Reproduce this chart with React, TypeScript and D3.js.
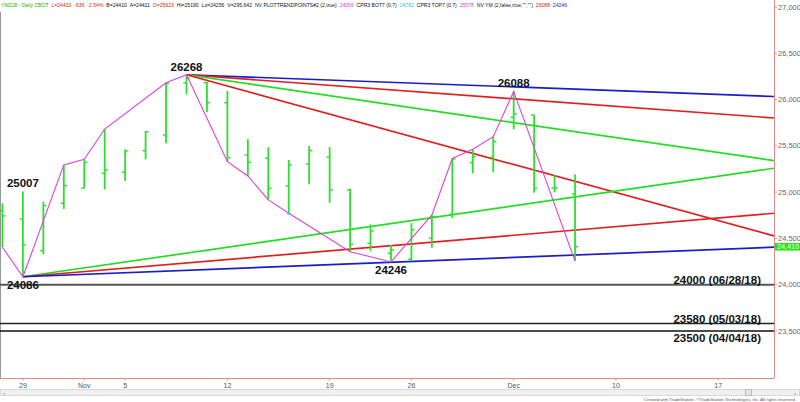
import React, { useMemo } from 'react';
import * as d3 from 'd3';

// ---- Data ----
const sessionDates = [
  '10/26', '10/29', '10/30', '10/31', '11/01', '11/02', '11/05', '11/06', '11/07', '11/08',
  '11/09', '11/12', '11/13', '11/14', '11/15', '11/16', '11/19', '11/20', '11/21', '11/23',
  '11/26', '11/27', '11/28', '11/29', '11/30', '12/03', '12/04', '12/05', '12/06', '12/07',
  '12/10', '12/11', '12/12', '12/13', '12/14', '12/17', '12/18', '12/19',
];
const barOpen = [24800, 24710, 24368, 24880, 25042, 25204, 25215, 25448, 25618, 26180, 26182, 25966, 25402, 25366, 25067, 25304, 25377, 25024, 24448, 24340, 24275, 24502, 24761, 25318, 25377, 25809, 25834, 25042, 24980];
const barHigh = [24880, 25007, 24897, 25294, 25355, 25682, 25463, 25661, 26182, 26268, 26193, 26093, 25571, 25485, 25348, 25499, 25485, 25038, 24653, 24430, 24664, 24754, 25364, 25463, 25599, 26088, 25834, 25186, 25190];
const barLow = [24405, 24086, 24329, 24818, 25042, 25031, 25121, 25355, 25528, 26057, 25863, 25329, 25175, 24916, 24772, 25085, 24886, 24357, 24365, 24246, 24260, 24400, 24721, 25204, 25215, 25679, 24994, 24999, 24256];
const barClose = [24743, 24430, 24854, 25070, 25323, 25240, 25445, 25653, 26176, 26230, 25966, 25372, 25323, 25042, 25294, 25448, 25024, 24437, 24581, 24376, 24592, 24735, 25358, 25383, 25545, 25844, 25042, 25046, 24410];

const tickIdx = [1, 4, 6, 11, 16, 20, 25, 30, 35];
const tickLabels = ['29', 'Nov', '5', '12', '19', '26', 'Dec', '10', '17'];
const priceTicks = [23500, 24000, 24500, 25000, 25500, 26000, 26500, 27000];

const swingIdx = [0, 1, 3, 4, 5, 8, 9, 11, 12, 13, 14, 17, 19, 21, 22, 23, 24, 25, 28];
const swingPrice = [24405, 24086, 25294, 25355, 25682, 26182, 26268, 25329, 25175, 24916, 24772, 24357, 24246, 24754, 25364, 25463, 25599, 26088, 24256];

const topFanIdx = 9;
const topFanPrice = 26268;
const topFanEnds = [26033, 25801, 25340, 24527];
const topFanColors = ['#1c1cc8', '#e02020', '#22dd22', '#e02020'];
const botFanIdx = 1;
const botFanPrice = 24086;
const botFanEnds = [25258, 24772, 24405];
const botFanColors = ['#22dd22', '#e02020', '#1c1cc8'];

const pivotText = ['25007', '24086', '26268', '24246', '26088'];
const pivotIdx = [1, 1, 9, 19, 25];
const pivotPrice = [25007, 24086, 26268, 24246, 26088];
const pivotAbove = [true, false, true, false, true];

const levelPrices = [24000, 23580, 23500];
const levelLabels = ['24000 (06/28/18)', '23580 (05/03/18)', '23500 (04/04/18)'];
const levelColors = ['#555555', '#222222', '#111111'];
const levelLabelAbove = [true, true, false];

const lastPrice = 24410;

const headerTexts = [
  'YM218 - Daily CBOT', 'L=24410', '-636', '-2.54%', 'B=24410', 'A=24411', 'O=25923',
  'Hi=25190', 'Lo=24256', 'V=295,642', 'NV PLOTTRENDPOINTS#2 (2,true)', '24256',
  'CPR3 BOT7 (0,7)', '24782', 'CPR3 TOP7 (0,7)', '25578', 'NV YM (2,false,true,"","")', '26088', '24246',
];
const headerColors = [
  '#10b010', '#e02020', '#e02020', '#e02020', '#111', '#111', '#e02020',
  '#111', '#111', '#111', '#111', '#e040e0',
  '#111', '#30c0e0', '#111', '#e040e0', '#111', '#e02020', '#2020c0',
];

const FONT = '"Liberation Sans", Arial, sans-serif';

export default function App() {
  const W = 800;
  const H = 402;
  const plotRight = 774;
  const plotBottom = 378;
  const headerSize = 5.1;
  const headerSpan = 566;

  const headerX = useMemo(() => {
    const ctx = document.createElement('canvas').getContext('2d');
    const widths = headerTexts.map((t) => {
      if (!ctx) return t.length * headerSize * 0.5;
      ctx.font = `${headerSize}px ${FONT}`;
      return ctx.measureText(t).width;
    });
    const total = d3.sum(widths);
    const gap = Math.max(1.5, (headerSpan - total) / (headerTexts.length - 1));
    const xs: number[] = [];
    let cur = 1;
    widths.forEach((w) => { xs.push(cur); cur += w + gap; });
    return xs;
  }, []);

  const x = d3.scaleLinear().domain([-0.12, 37.73]).range([0, plotRight]);
  const y = d3.scaleLinear().domain([23500, 27000]).range([331, 7]);
  const rightIdx = x.invert(plotRight);

  const zig = d3.line<number>()
    .x((_, i) => x(swingIdx[i]))
    .y((p) => y(p));

  const barGreen = '#2be02b';

  return (
    <svg width={W} height={H} style={{ position: 'absolute', left: 0, top: 0, background: '#fff' }} fontFamily={FONT}>
      <rect x={0} y={0} width={W} height={H} fill="#fff" />
      {/* left border */}
      <line x1={0.5} x2={0.5} y1={12} y2={plotBottom} stroke="#999" strokeWidth={1} />

      {/* header */}
      {headerTexts.map((t, i) => (
        <text key={'h' + i} x={headerX[i]} y={7} fontSize={headerSize} fill={headerColors[i]}>{t}</text>
      ))}

      {/* horizontal levels */}
      {levelPrices.map((p, i) => (
        <g key={'lv' + i}>
          <line x1={0} x2={plotRight} y1={y(p)} y2={y(p)} stroke={levelColors[i]} strokeWidth={i === 0 ? 2 : 1.5} />
          <text x={761} y={levelLabelAbove[i] ? y(p) - 1 : y(p) + 10.5} textAnchor="end" fontSize={11.5} fontWeight="bold" fill="#111">
            {levelLabels[i]}
          </text>
        </g>
      ))}

      {/* trend fans */}
      {topFanEnds.map((p, i) => (
        <line key={'tf' + i} x1={x(topFanIdx)} y1={y(topFanPrice)} x2={x(rightIdx)} y2={y(p)} stroke={topFanColors[i]} strokeWidth={1.7} />
      ))}
      {botFanEnds.map((p, i) => (
        <line key={'bf' + i} x1={x(botFanIdx)} y1={y(botFanPrice)} x2={x(rightIdx)} y2={y(p)} stroke={botFanColors[i]} strokeWidth={1.7} />
      ))}

      {/* OHLC bars */}
      {barHigh.map((h, i) => {
        const cx = x(i);
        return (
          <g key={'b' + i} stroke={barGreen}>
            <line x1={cx} x2={cx} y1={y(h)} y2={y(barLow[i])} strokeWidth={1.8} />
            <line x1={cx - 3.2} x2={cx} y1={y(barOpen[i])} y2={y(barOpen[i])} strokeWidth={1.4} />
            <line x1={cx} x2={cx + 3.2} y1={y(barClose[i])} y2={y(barClose[i])} strokeWidth={1.4} />
          </g>
        );
      })}

      {/* zigzag */}
      <path d={zig(swingPrice) || ''} fill="none" stroke="#e040e0" strokeWidth={1.1} />
      <circle cx={x(14)} cy={y(barLow[14])} r={1.8} fill="#40c8ff" />

      {/* pivot labels */}
      {pivotText.map((t, i) => (
        <text key={'pv' + i} x={x(pivotIdx[i])} y={pivotAbove[i] ? y(pivotPrice[i]) - 4 : y(pivotPrice[i]) + 12}
          textAnchor="middle" fontSize={11.5} fontWeight="bold" fill="#111">{t}</text>
      ))}

      {/* right axis */}
      <line x1={plotRight + 0.5} x2={plotRight + 0.5} y1={0} y2={plotBottom} stroke="#e08a8a" strokeWidth={1} />
      {priceTicks.map((p) => (
        <g key={'pt' + p}>
          <line x1={plotRight} x2={plotRight + 3} y1={y(p)} y2={y(p)} stroke="#e08a8a" />
          <text x={plotRight + 4} y={y(p) + 2.5} fontSize={7.5} fill="#666">{d3.format(',')(p)}</text>
        </g>
      ))}
      <rect x={plotRight + 1} y={y(lastPrice) - 3.8} width={W - plotRight - 1} height={7.6} fill="#22e622" />
      <text x={plotRight + 3} y={y(lastPrice) + 2.6} fontSize={7.2} fill="#fff">{d3.format(',')(lastPrice)}</text>

      {/* bottom axis */}
      <line x1={0} x2={plotRight} y1={plotBottom + 0.5} y2={plotBottom + 0.5} stroke="#e08a8a" strokeWidth={1} />
      {tickIdx.map((ti, i) => (
        <g key={'xt' + i}>
          <line x1={x(ti)} x2={x(ti)} y1={plotBottom} y2={plotBottom + 2.5} stroke="#e08a8a" />
          <text x={x(ti)} y={388} textAnchor="middle" fontSize={7} fill="#555">{tickLabels[i]}</text>
        </g>
      ))}
      <title>{sessionDates.join(' ')}</title>

      {/* scrollbar */}
      <rect x={0.5} y={389.5} width={W - 1} height={6} fill="#f0f0f0" stroke="#d8d8d8" />
      <rect x={745.5} y={389.5} width={6} height={6} fill="#e4e4e4" stroke="#bbb" />
      <text x={3} y={394.5} fontSize={6} fill="#777">‹</text>
      <text x={794} y={394.5} fontSize={6} fill="#777">›</text>
      <text x={796} y={400.5} textAnchor="end" fontSize={4.4} fill="#555" textLength={152} lengthAdjust="spacingAndGlyphs">
        Created with TradeStation. ©TradeStation Technologies, Inc. All rights reserved.
      </text>
    </svg>
  );
}
